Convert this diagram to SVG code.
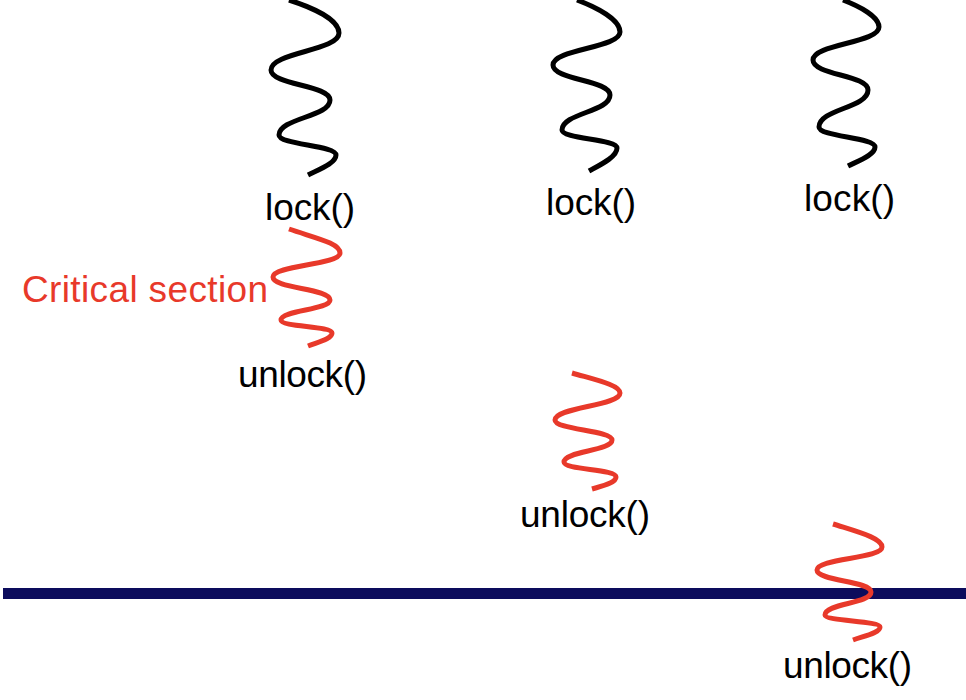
<svg xmlns="http://www.w3.org/2000/svg" width="966" height="700" viewBox="0 0 966 700">
<style>
.t{font-family:"Liberation Sans",Arial,Helvetica,sans-serif;font-size:37px;fill:#000}
.r{fill:#e8392a}
.sq{fill:none;stroke-width:5;stroke-linecap:butt}
.k{stroke:#000}
.red{stroke:#e8392a}
</style>
<rect x="0" y="0" width="966" height="700" fill="#fff"/>
<g id="timeline">
<rect x="3" y="588" width="963" height="11" fill="#0c0c5c"/>
</g>
<g id="thread1">
<path class="sq k" d="M289,0 C314,8 339,20 339,33 C339,51 271,52 271,70 C271,85 330,85 330,100 C330,117 279,118 279,135 C279,145 336,145 336,155 C336,163 320,169 308,175"/>
<text class="t" x="265" y="220" textLength="90">lock()</text>
<path class="sq red" d="M289,229 C315,238 340,243 340,253 C340,265 273,265 273,277 C273,289 330,288 330,300 C330,310 281,310 281,320 C281,327 332,326 332,333 C332,339 318,342 308,346"/>
<text class="t r" x="22" y="302" textLength="246">Critical section</text>
<text class="t" x="238" y="387" textLength="129">unlock()</text>
</g>
<g id="thread2">
<path class="sq k" d="M577,0 C598,8 620,20 620,32 C620,48 553,49 553,65 C553,80 610,80 610,95 C610,112 562,113 562,130 C562,139 617,139 617,148 C617,157 600,165 589,171"/>
<text class="t" x="546" y="215" textLength="90">lock()</text>
<path class="sq red" d="M572,373 C596,380 620,385 620,393 C620,406 555,407 555,420 C555,430 612,430 612,440 C612,451 564,451 564,462 C564,470 616,469 616,477 C616,483 602,486 592,489"/>
<text class="t" x="520" y="527" textLength="130">unlock()</text>
</g>
<g id="thread3">
<path class="sq k" d="M843,0 C861,7 879,17 879,27 C879,43 813,44 813,60 C813,75 868,75 868,90 C868,108 819,109 819,127 C819,137 875,137 875,147 C875,155 858,161 848,166"/>
<text class="t" x="804" y="211" textLength="91">lock()</text>
<path class="sq red" d="M833,524 C858,532 882,538 882,547 C882,559 817,558 817,570 C817,581 871,581 871,592 C871,604 825,603 825,615 C825,621 880,621 880,627 C880,633 864,636 853,640"/>
<text class="t" x="783" y="678" textLength="129">unlock()</text>
</g>
</svg>
